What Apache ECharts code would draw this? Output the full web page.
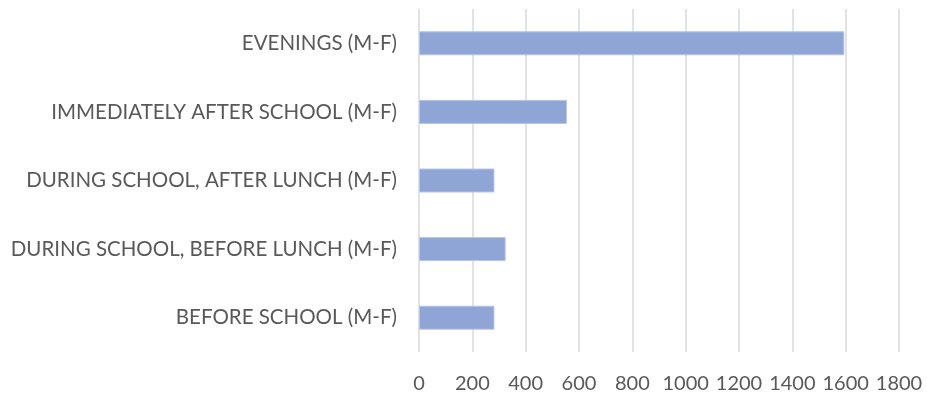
<!DOCTYPE html>
<html>
<head>
<meta charset="utf-8">
<script src="https://cdn.jsdelivr.net/npm/echarts@6/dist/echarts.min.js"></script>
<style>
html,body{margin:0;padding:0;background:#fff;}
#chart{width:927px;height:398px;}
</style>
</head>
<body>
<div id="chart"></div>
<script>
const categories = [
  "BEFORE SCHOOL (M-F)",
  "DURING SCHOOL, BEFORE LUNCH (M-F)",
  "DURING SCHOOL, AFTER LUNCH (M-F)",
  "IMMEDIATELY AFTER SCHOOL (M-F)",
  "EVENINGS (M-F)"
];
const values = [283, 325, 283, 555, 1595];
const xMin = 0, xMax = 1800, xStep = 200;

const chart = echarts.init(document.getElementById('chart'));
const fontFamily = 'Lato, "Open Sans", sans-serif';
chart.setOption({
  animation: false,
  grid: { left: 419, right: 28, top: 9, bottom: 46, containLabel: false },
  xAxis: {
    type: 'value', min: xMin, max: xMax, interval: xStep,
    axisLine: { show: false }, axisTick: { show: false },
    splitLine: { show: true, lineStyle: { color: '#D9D9D9', width: 1.5 } },
    axisLabel: { color: '#595959', fontSize: 20, fontFamily: fontFamily, margin: 22,
      formatter: function (v) { return String(v); } }
  },
  yAxis: {
    type: 'category', data: categories,
    axisLine: { show: false }, axisTick: { show: false },
    axisLabel: { color: '#595959', fontSize: 20.5, fontFamily: fontFamily, margin: 22 }
  },
  series: [{
    type: 'bar', data: values, barWidth: 24,
    itemStyle: { color: '#8FA5D6', borderColor: '#B7C5E6', borderWidth: 1 }
  }]
});
</script>
</body>
</html>
